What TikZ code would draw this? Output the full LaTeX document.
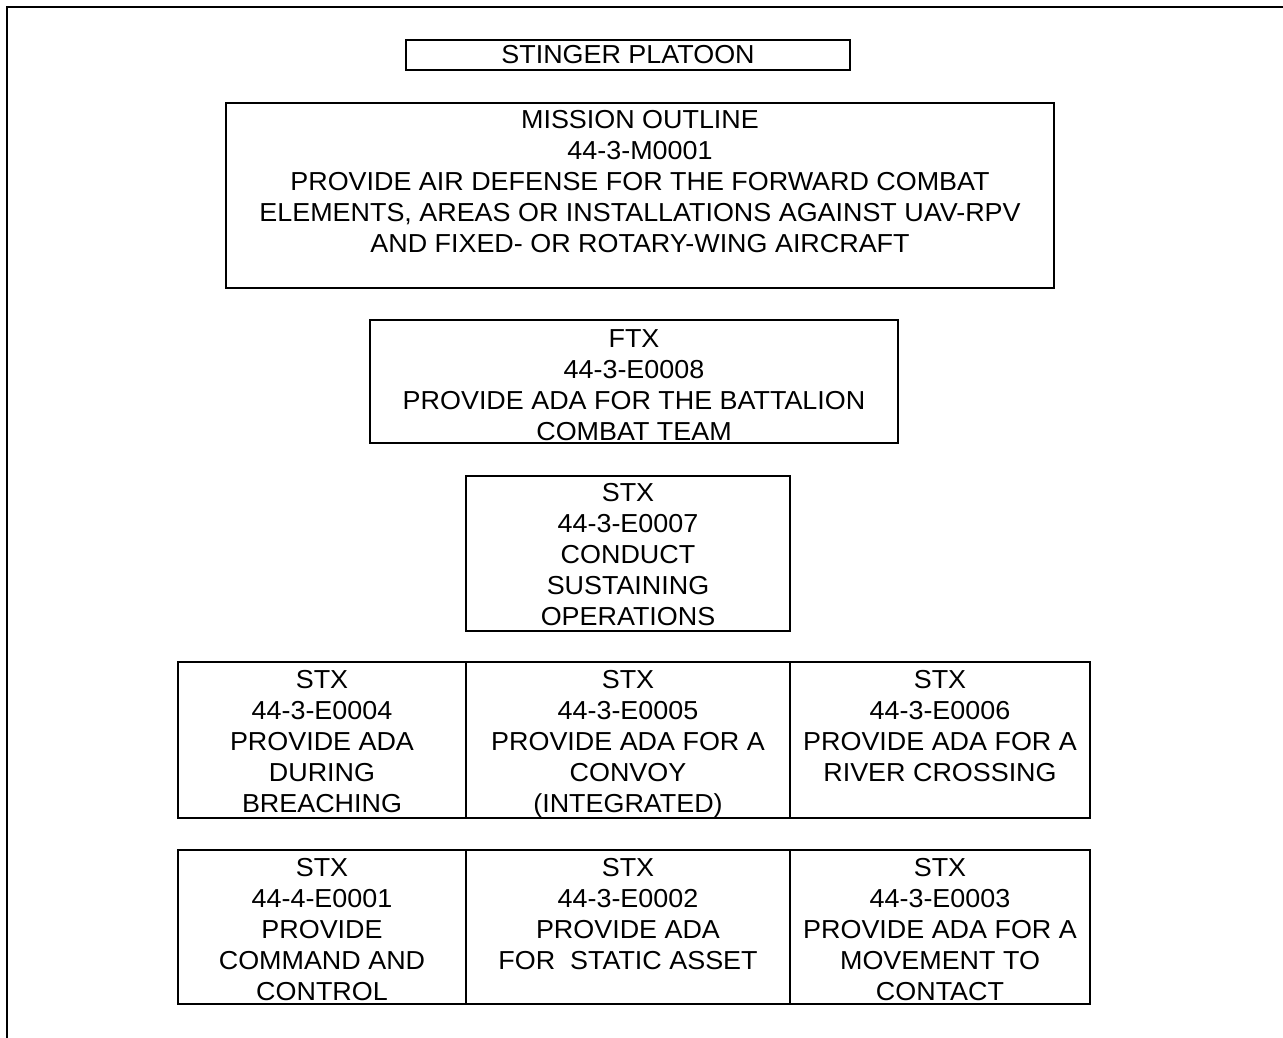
\documentclass[tikz,border=0pt]{standalone}
\usepackage{fontspec}
\setmainfont[FakeStretch=1.035]{Liberation Sans}
\begin{document}
\begin{tikzpicture}[x=1pt,y=-1pt,
  box/.style={draw,line width=1.5pt,inner sep=0pt,outer sep=0pt},
  txt/.style={inner sep=0pt,align=center,font=\fontsize{26}{31}\selectfont,anchor=north}]
\useasboundingbox (0,0) rectangle (1283,1038);
\coordinate (fa) at (7,1038);
\coordinate (fb) at (7,7);
\coordinate (fc) at (1283,7);
\draw[line width=2.2pt] (fa) -- (fb) -- (fc);
% boxes
\node[box,minimum width=444,minimum height=30] (sp) at (628,55) {};
\node[box,minimum width=828,minimum height=185] (mo) at (640,195.5) {};
\node[box,minimum width=528,minimum height=123] (ftx) at (634,381.5) {};
\node[box,minimum width=324,minimum height=155] (s7) at (628,553.5) {};
\node[box,minimum width=288,minimum height=156] (s4) at (322,740) {};
\node[box,minimum width=324,minimum height=156] (s5) at (628,740) {};
\node[box,minimum width=300,minimum height=156] (s6) at (940,740) {};
\node[box,minimum width=288,minimum height=154] (e1) at (322,927) {};
\node[box,minimum width=324,minimum height=154] (s2) at (628,927) {};
\node[box,minimum width=300,minimum height=154] (s3) at (940,927) {};
% texts
\node[txt,anchor=center] (tsp) at (628,55) {STINGER PLATOON};
\node[txt] (tmo) at (640,110) {MISSION OUTLINE\\44-3-M0001\\PROVIDE AIR DEFENSE FOR THE FORWARD COMBAT\\ELEMENTS, AREAS OR INSTALLATIONS AGAINST UAV-RPV\\AND FIXED- OR ROTARY-WING AIRCRAFT};
\node[txt] (tftx) at (634,329) {FTX\\44-3-E0008\\PROVIDE ADA FOR THE BATTALION\\COMBAT TEAM};
\node[txt] (ts7) at (628,483) {STX\\44-3-E0007\\CONDUCT\\SUSTAINING\\OPERATIONS};
\node[txt] (ts4) at (322,670) {STX\\44-3-E0004\\PROVIDE ADA\\DURING\\BREACHING};
\node[txt] (ts5) at (628,670) {STX\\44-3-E0005\\PROVIDE ADA FOR A\\CONVOY\\(INTEGRATED)};
\node[txt] (ts6) at (940,670) {STX\\44-3-E0006\\PROVIDE ADA FOR A\\RIVER CROSSING};
\node[txt] (te1) at (322,858) {STX\\44-4-E0001\\PROVIDE\\COMMAND AND\\CONTROL};
\node[txt] (ts2) at (628,858) {STX\\44-3-E0002\\PROVIDE ADA\\FOR\ \ STATIC ASSET};
\node[txt] (ts3) at (940,858) {STX\\44-3-E0003\\PROVIDE ADA FOR A\\MOVEMENT TO\\CONTACT};
\end{tikzpicture}
\end{document}
